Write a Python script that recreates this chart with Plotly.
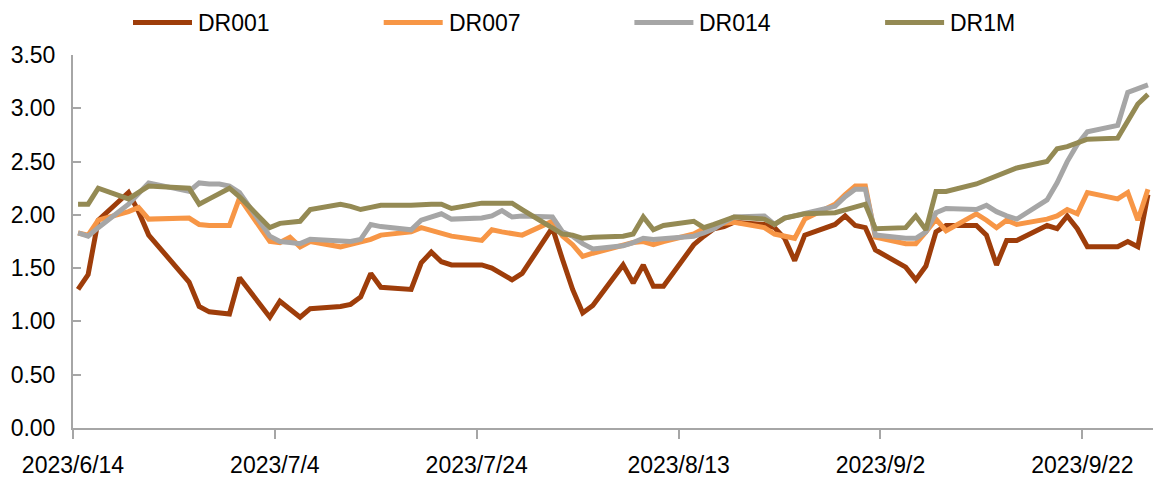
import pandas as pd
import plotly.graph_objects as go

# 交易日
dates = [
    '2023-06-14', '2023-06-15', '2023-06-16', '2023-06-19', '2023-06-20', '2023-06-21',
    '2023-06-25', '2023-06-26', '2023-06-27', '2023-06-28', '2023-06-29', '2023-06-30',
    '2023-07-03', '2023-07-04', '2023-07-05', '2023-07-06', '2023-07-07',
    '2023-07-10', '2023-07-11', '2023-07-12', '2023-07-13', '2023-07-14',
    '2023-07-17', '2023-07-18', '2023-07-19', '2023-07-20', '2023-07-21',
    '2023-07-24', '2023-07-25', '2023-07-26', '2023-07-27', '2023-07-28', '2023-07-31',
    '2023-08-01', '2023-08-02', '2023-08-03', '2023-08-04',
    '2023-08-07', '2023-08-08', '2023-08-09', '2023-08-10', '2023-08-11',
    '2023-08-14', '2023-08-15', '2023-08-16', '2023-08-17', '2023-08-18',
    '2023-08-21', '2023-08-22', '2023-08-23', '2023-08-24', '2023-08-25',
    '2023-08-28', '2023-08-29', '2023-08-30', '2023-08-31', '2023-09-01',
    '2023-09-04', '2023-09-05', '2023-09-06', '2023-09-07', '2023-09-08',
    '2023-09-11', '2023-09-12', '2023-09-13', '2023-09-14', '2023-09-15',
    '2023-09-18', '2023-09-19', '2023-09-20', '2023-09-21', '2023-09-22',
    '2023-09-25', '2023-09-26', '2023-09-27', '2023-09-28',
]

dr001 = [
    1.30, 1.44, 1.95, 2.21, 2.03, 1.81, 1.37, 1.14, 1.09, 1.08, 1.07, 1.41,
    1.04, 1.19, 1.12, 1.04, 1.12, 1.14, 1.16, 1.23, 1.45, 1.32,
    1.30, 1.55, 1.65, 1.56, 1.53, 1.53, 1.50, 1.45, 1.39, 1.45, 1.88,
    1.58, 1.30, 1.08, 1.15, 1.53, 1.36, 1.53, 1.33, 1.33,
    1.72, 1.80, 1.87, 1.89, 1.93, 1.91, 1.88, 1.78, 1.57, 1.81,
    1.91, 1.99, 1.90, 1.88, 1.67,
    1.51, 1.39, 1.52, 1.84, 1.90, 1.90, 1.81, 1.53, 1.76, 1.76,
    1.90, 1.87, 1.99, 1.87, 1.70, 1.70, 1.75, 1.70, 2.19,
]
dr007 = [
    1.83, 1.81, 1.95, 2.03, 2.07, 1.96, 1.97, 1.91, 1.90, 1.90, 1.90, 2.16,
    1.75, 1.74, 1.79, 1.70, 1.75, 1.70, 1.72, 1.74, 1.77, 1.81,
    1.84, 1.88, 1.85, 1.82, 1.80, 1.76, 1.86, 1.84, 1.83, 1.81, 1.94,
    1.80, 1.72, 1.61, 1.64, 1.72, 1.74, 1.75, 1.72, 1.75,
    1.82, 1.87, 1.90, 1.92, 1.93, 1.88, 1.82, 1.80, 1.78, 1.96,
    2.10, 2.19, 2.27, 2.27, 1.79,
    1.73, 1.73, 1.84, 1.96, 1.85, 2.01, 1.95, 1.88, 1.95, 1.91,
    1.96, 1.99, 2.05, 2.01, 2.21, 2.15, 2.21, 1.95, 2.24,
]
dr014 = [
    1.83, 1.80, 1.88, 2.10, 2.20, 2.30, 2.22, 2.30, 2.29, 2.29, 2.27, 2.21,
    1.80, 1.75, 1.74, 1.73, 1.77, 1.75, 1.75, 1.77, 1.91, 1.89,
    1.86, 1.95, 1.98, 2.01, 1.96, 1.97, 1.99, 2.04, 1.98, 1.99, 1.98,
    1.84, 1.80, 1.73, 1.68, 1.71, 1.74, 1.78, 1.77, 1.78,
    1.80, 1.83, 1.87, 1.93, 1.98, 1.99, 1.91, 1.97, 1.99, 2.02,
    2.08, 2.17, 2.24, 2.24, 1.81,
    1.78, 1.78, 1.84, 2.02, 2.06, 2.05, 2.09, 2.03, 1.99, 1.96,
    2.14, 2.30, 2.50, 2.66, 2.78, 2.84, 3.15, 3.18, 3.22,
]
dr1m = [
    2.10, 2.10, 2.25, 2.15, 2.21, 2.27, 2.25, 2.10, 2.15, 2.20, 2.25, 2.17,
    1.88, 1.92, 1.93, 1.94, 2.05, 2.10, 2.08, 2.05, 2.07, 2.09,
    2.09, 2.10, 2.10, 2.10, 2.06, 2.11, 2.11, 2.11, 2.11, 2.05, 1.88,
    1.82, 1.81, 1.78, 1.79, 1.80, 1.82, 1.98, 1.86, 1.90,
    1.94, 1.88, 1.91, 1.95, 1.98, 1.96, 1.91, 1.97, 1.99, 2.01,
    2.02, 2.05, 2.08, 2.10, 1.87,
    1.88, 1.99, 1.86, 2.22, 2.22, 2.29, 2.33, 2.37, 2.40, 2.44,
    2.50, 2.62, 2.64, 2.68, 2.71, 2.72, 2.87, 3.04, 3.13,
]

names = ['DR001', 'DR007', 'DR014', 'DR1M']
colors = ['#9E3D0A', '#F79646', '#A6A6A6', '#948A54']
series = [dr001, dr007, dr014, dr1m]

# 点画在每天的中间（和Excel日期轴一样）
x = pd.to_datetime(dates) + pd.Timedelta(hours=12)

fig = go.Figure()
for name, col, ys in zip(names, colors, series):
    fig.add_trace(go.Scatter(x=x, y=ys, name=name, mode='lines',
                             line=dict(color=col, width=5), showlegend=False))

# 图例: 横线 + 文字
L, W, T, H = 73, 1080, 55, 379
for i, (name, col) in enumerate(zip(names, colors)):
    x0 = 133 + i * 250.7
    fig.add_shape(type='line', xref='paper', yref='paper',
                  x0=(x0 - L) / W, x1=(x0 + 59 - L) / W,
                  y0=(T + H - 22) / H, y1=(T + H - 22) / H,
                  line=dict(color=col, width=5))
    fig.add_annotation(xref='paper', yref='paper', x=(x0 + 63 - L) / W,
                       y=(T + H - 22) / H, text=name, showarrow=False,
                       xanchor='left', yanchor='middle',
                       font=dict(size=23, color='black'))

axis_col = '#A6A6A6'
fig.update_layout(
    width=1153, height=478,
    margin=dict(l=L, r=0, t=T, b=478 - T - H),
    paper_bgcolor='white', plot_bgcolor='white',
    font=dict(family='Liberation Sans, Arial, sans-serif', size=23, color='black'),
    xaxis=dict(
        type='date', range=['2023-06-14', '2023-09-29'],
        tick0='2023-06-14', dtick=20 * 86400000, tickformat='%Y/%-m/%-d',
        showgrid=False, zeroline=False,
        showline=True, linecolor=axis_col, linewidth=2,
        ticks='outside', ticklen=9, tickwidth=2, tickcolor=axis_col,
        ticklabelstandoff=6,
    ),
    yaxis=dict(
        range=[0, 3.5], dtick=0.5, tickformat='.2f',
        showgrid=False, zeroline=False,
        showline=True, linecolor=axis_col, linewidth=2,
        ticks='inside', ticklen=8, tickwidth=2, tickcolor=axis_col,
        ticklabelstandoff=11,
    ),
)

fig.write_html("out.html", config={'displayModeBar': False},
               post_script="document.body.style.margin='0';")
